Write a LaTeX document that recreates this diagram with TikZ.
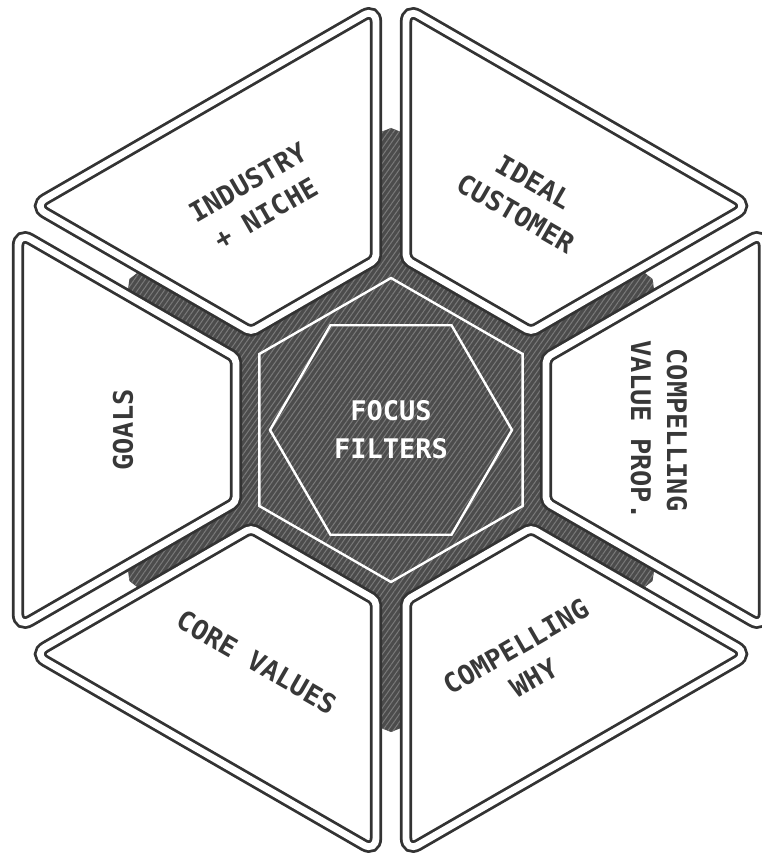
\documentclass[tikz,border=0pt]{standalone}
\usepackage{fontspec}
\setmonofont{DejaVu Sans Mono}
\usepackage{tikz}
\usetikzlibrary{patterns.meta}

\begin{document}
\begin{tikzpicture}[x=0.5pt,y=0.5pt,
seg/.style={draw=black!80,line width=1.4pt,double=white,double distance=3.4pt,fill=white},
lbl/.style={font=\ttfamily\bfseries\fontsize{13.5}{18}\selectfont,text=black!78,align=center},
core/.style={fill=black!70,postaction={pattern={Lines[angle=55,distance=2.2pt,line width=0.5pt]},pattern color=black!52}},
rim/.style={draw=white,line width=1.2pt}
]
\useasboundingbox (-391,-425) rectangle (370,430);
% dark core with its spokes
\fill[core] (30:185) \foreach \k in {90,150,...,330}{ -- (\k:185)} -- cycle;
\foreach \a in {30,90,...,330}
  \fill[core,rotate=\a] (0,-15) -- (296,-15) -- (302,0) -- (296,15) -- (0,15) -- cycle;
% the six filters
\foreach \a/\r/\txt [count=\i] in {0/-90/{COMPELLING\\VALUE PROP.},60/-30/{IDEAL\\CUSTOMER},120/30/{INDUSTRY\\+ NICHE},180/90/GOALS,240/-30/CORE VALUES,300/30/{COMPELLING\\WHY}}{
  \begin{scope}[rotate=\a]
    \draw[seg] (373,0) [rounded corners=7pt] -- (373,198) -- (264,135.1)
      [rounded corners=2.5pt] -- (155,72.2) -- (155,0) -- (155,-72.2) -- (264,-135.1)
      [rounded corners=7pt] -- (373,-198) -- cycle;
  \end{scope}
  \node[lbl,rotate=\r] (filter\i) at (\a:268) {\txt};
}
% centre
\draw[rim] (30:152) \foreach \k in {90,150,...,330}{ -- (\k:152)} -- cycle;
\draw[rim] (0:121) \foreach \k in {60,120,...,300}{ -- (\k:121)} -- cycle;
\node[font=\ttfamily\bfseries\fontsize{13.5}{19}\selectfont,text=white,align=center] (focus) at (0,0) {FOCUS\\FILTERS};
\end{tikzpicture}
\end{document}
